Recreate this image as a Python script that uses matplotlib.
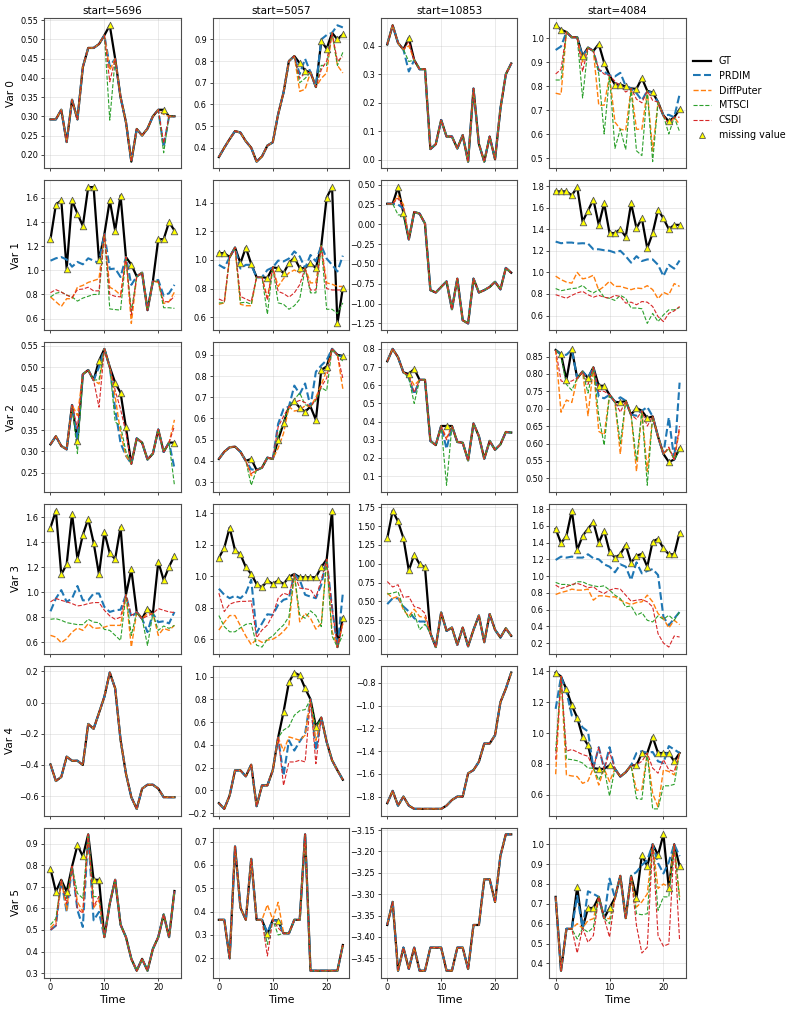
import numpy as np
import matplotlib
matplotlib.use("Agg")
import matplotlib.pyplot as plt
from matplotlib.lines import Line2D

# time axis and window starts (one column each)
time_steps = np.arange(24)
starts = [5696, 5057, 10853, 4084]

# ---- start=5696 ----
gt_5696 = [
    [0.292, 0.292, 0.317, 0.233, 0.343, 0.292, 0.428, 0.478, 0.478, 0.488, 0.511, 0.537,
     0.450, 0.350, 0.285, 0.182, 0.267, 0.250, 0.268, 0.300, 0.317, 0.317, 0.300, 0.300],
    [1.258, 1.545, 1.58, 1.014, 1.58, 1.47, 1.368, 1.69, 1.69, 1.083, 1.30, 1.58,
     1.33, 1.62, 1.11, 1.047, 0.95, 0.98, 0.67, 0.91, 1.258, 1.258, 1.40, 1.33],
    [0.317, 0.336, 0.313, 0.305, 0.41, 0.324, 0.483, 0.493, 0.469, 0.515, 0.543, 0.50,
     0.463, 0.439, 0.357, 0.271, 0.331, 0.321, 0.281, 0.295, 0.352, 0.299, 0.321, 0.321],
    [1.519, 1.654, 1.143, 1.224, 1.63, 1.267, 1.46, 1.589, 1.398, 1.143, 1.482, 1.312,
     1.267, 1.522, 0.98, 1.183, 0.84, 0.788, 0.869, 0.829, 1.245, 1.097, 1.205, 1.294],
    [-0.397, -0.503, -0.477, -0.347, -0.373, -0.373, -0.40, -0.137, -0.168, -0.066, 0.038, 0.193,
     0.092, -0.239, -0.455, -0.607, -0.682, -0.552, -0.527, -0.527, -0.552, -0.607, -0.607, -0.607],
    [0.784, 0.678, 0.733, 0.678, 0.795, 0.894, 0.842, 0.944, 0.733, 0.733, 0.467, 0.623,
     0.733, 0.525, 0.467, 0.366, 0.311, 0.366, 0.311, 0.412, 0.467, 0.572, 0.467, 0.681],
]
miss_5696 = [
    [11, 21],
    [0, 1, 2, 3, 4, 5, 6, 7, 8, 9, 11, 12, 13, 15, 20, 21, 22, 23],
    [5, 9, 12, 13, 14, 23],
    [0, 1, 2, 3, 4, 5, 6, 7, 8, 9, 10, 11, 12, 13, 15, 18, 20, 21, 22, 23],
    [],
    [0, 1, 3, 5, 6, 8, 9],
]
prdim_5696 = [
    [0.43, 0.22],
    [1.08, 1.10, 1.11, 1.09, 1.03, 1.07, 1.05, 1.10, 1.08, 1.06, 1.01, 1.015, 0.945, 0.88, 0.92, 0.79, 0.81, 0.88],
    [0.33, 0.50, 0.40, 0.32, 0.29, 0.26],
    [0.847, 0.95, 1.017, 0.923, 0.95, 1.05, 0.935, 0.935, 0.99, 0.99, 0.882, 0.842, 0.855, 0.86,
     0.80, 0.68, 0.76, 0.767, 0.75, 0.842],
    [],
    [0.50, 0.52, 0.584, 0.592, 0.514, 0.545, 0.584],
]
diffputer_5696 = [
    [0.42, 0.305],
    [0.78, 0.74, 0.70, 0.765, 0.765, 0.86, 0.875, 0.90, 0.915, 0.93, 0.86, 0.835, 0.795, 0.56, 0.90, 0.725, 0.74, 0.82],
    [0.385, 0.46, 0.43, 0.345, 0.29, 0.375],
    [0.654, 0.64, 0.595, 0.627, 0.68, 0.713, 0.694, 0.748, 0.71, 0.713, 0.72, 0.734, 0.734, 0.734,
     0.56, 0.83, 0.654, 0.71, 0.694, 0.734],
    [],
    [0.51, 0.537, 0.592, 0.631, 0.584, 0.603, 0.639],
]
mtsci_5696 = [
    [0.29, 0.205],
    [0.78, 0.81, 0.82, 0.795, 0.78, 0.745, 0.77, 0.785, 0.80, 0.80, 0.68, 0.675, 0.67, 0.66, 0.91, 0.69, 0.69, 0.685],
    [0.295, 0.47, 0.37, 0.36, 0.30, 0.22],
    [0.783, 0.788, 0.775, 0.756, 0.748, 0.74, 0.74, 0.783, 0.76, 0.756, 0.702, 0.694, 0.654, 0.613,
     0.654, 0.573, 0.694, 0.729, 0.71, 0.734],
    [],
    [0.525, 0.553, 0.647, 0.67, 0.647, 0.655, 0.655],
]
csdi_5696 = [
    [0.39, 0.23],
    [0.815, 0.84, 0.82, 0.795, 0.775, 0.84, 0.845, 0.86, 0.83, 0.83, 0.80, 0.785, 0.78, 0.63, 0.91, 0.74, 0.74, 0.785],
    [0.355, 0.405, 0.445, 0.40, 0.345, 0.36],
    [0.923, 0.95, 0.935, 0.923, 0.909, 0.89, 0.896, 0.909, 0.917, 0.917, 0.855, 0.81, 0.783, 0.80,
     0.815, 0.81, 0.869, 0.855, 0.842, 0.837],
    [],
    [0.50, 0.52, 0.623, 0.60, 0.577, 0.61, 0.655],
]

# ---- start=5057 ----
gt_5057 = [
    [0.357, 0.40, 0.44, 0.477, 0.47, 0.43, 0.40, 0.336, 0.36, 0.41, 0.425, 0.555,
     0.655, 0.80, 0.823, 0.79, 0.756, 0.748, 0.68, 0.892, 0.857, 0.93, 0.90, 0.923],
    [1.048, 1.048, 1.02, 1.087, 0.978, 1.087, 0.973, 0.88, 0.88, 0.874, 0.948, 0.943,
     0.908, 0.978, 1.017, 0.943, 0.943, 0.978, 0.943, 1.10, 1.437, 1.51, 0.556, 0.804],
    [0.409, 0.443, 0.464, 0.467, 0.443, 0.40, 0.409, 0.357, 0.368, 0.415, 0.409, 0.50,
     0.577, 0.656, 0.68, 0.651, 0.632, 0.656, 0.593, 0.829, 0.845, 0.928, 0.90, 0.895],
    [1.116, 1.18, 1.308, 1.163, 1.138, 1.057, 1.014, 0.95, 0.928, 0.973, 0.95, 0.973,
     0.95, 0.995, 1.014, 0.993, 0.993, 0.993, 0.993, 1.057, 1.106, 1.415, 0.55, 0.737],
    [-0.112, -0.162, -0.044, 0.176, 0.176, 0.124, 0.226, -0.138, 0.044, 0.044, 0.176, 0.465,
     0.69, 0.95, 1.035, 1.01, 0.897, 0.80, 0.56, 0.64, 0.426, 0.265, 0.176, 0.094],
    [0.365, 0.365, 0.20, 0.679, 0.417, 0.365, 0.626, 0.365, 0.365, 0.304, 0.365, 0.361,
     0.307, 0.307, 0.365, 0.365, 0.731, 0.147, 0.147, 0.147, 0.147, 0.147, 0.147, 0.257],
]
miss_5057 = [
    [15, 16, 19, 20, 22, 23],
    [0, 1, 4, 5, 6, 9, 11, 12, 13, 14, 15, 17, 18, 20, 21, 22, 23],
    [6, 11, 12, 14, 15, 16, 18, 19, 20, 23],
    [0, 1, 2, 3, 4, 5, 6, 7, 8, 9, 10, 11, 12, 13, 15, 16, 17, 18, 19, 21, 23],
    [12, 13, 14, 15, 16, 18],
    [9, 11],
]
prdim_5057 = [
    [0.74, 0.81, 0.90, 0.92, 0.965, 0.955],
    [0.966, 0.943, 0.94, 0.966, 0.966, 0.93, 0.996, 0.99, 1.01, 1.06, 1.025, 1.035, 0.99, 1.01, 0.966, 0.92, 1.03],
    [0.36, 0.575, 0.645, 0.755, 0.715, 0.765, 0.82, 0.85, 0.875, 0.89],
    [0.92, 0.882, 0.86, 0.875, 0.86, 0.892, 0.977, 0.64, 0.70, 0.758, 0.754, 0.818, 0.85, 0.86,
     0.977, 0.882, 0.87, 0.86, 0.946, 0.80, 0.892],
    [0.13, 0.44, 0.35, 0.43, 0.50, 0.35],
    [0.31, 0.36],
]
diffputer_5057 = [
    [0.66, 0.67, 0.72, 0.745, 0.78, 0.745],
    [0.69, 0.70, 0.69, 0.68, 0.68, 0.735, 0.815, 0.87, 0.91, 0.93, 0.91, 0.84, 0.84, 0.84, 0.83, 0.815, 0.815],
    [0.33, 0.46, 0.53, 0.635, 0.64, 0.66, 0.70, 0.76, 0.825, 0.74],
    [0.658, 0.707, 0.75, 0.75, 0.685, 0.62, 0.566, 0.60, 0.58, 0.594, 0.60, 0.62, 0.65, 0.69,
     0.71, 0.764, 0.733, 0.664, 0.70, 0.65, 0.70],
    [0.347, 0.47, 0.456, 0.44, 0.485, 0.44],
    [0.43, 0.44],
]
mtsci_5057 = [
    [0.70, 0.72, 0.78, 0.78, 0.78, 0.84],
    [0.70, 0.70, 0.70, 0.705, 0.69, 0.62, 0.70, 0.69, 0.655, 0.68, 0.725, 0.77, 0.77, 0.655, 0.655, 0.625, 0.70],
    [0.285, 0.52, 0.58, 0.69, 0.72, 0.665, 0.685, 0.745, 0.73, 0.87],
    [0.75, 0.68, 0.647, 0.647, 0.672, 0.694, 0.70, 0.562, 0.55, 0.60, 0.62, 0.658, 0.69, 0.743,
     0.754, 0.733, 0.78, 0.75, 0.68, 0.62, 0.63],
    [0.53, 0.56, 0.66, 0.70, 0.71, 0.55],
    [0.26, 0.30],
]
csdi_5057 = [
    [0.72, 0.745, 0.76, 0.80, 0.80, 0.82],
    [0.727, 0.71, 0.745, 0.727, 0.71, 0.72, 0.78, 0.765, 0.74, 0.77, 0.827, 0.79, 0.79, 0.80, 0.79, 0.79, 0.79],
    [0.34, 0.56, 0.61, 0.675, 0.685, 0.675, 0.69, 0.75, 0.79, 0.79],
    [0.892, 0.775, 0.822, 0.835, 0.84, 0.84, 0.843, 0.61, 0.658, 0.69, 0.754, 0.86, 0.892, 0.88,
     0.924, 0.92, 0.914, 0.865, 0.977, 0.80, 0.70],
    [0.044, 0.25, 0.25, 0.265, 0.25, 0.235],
    [0.21, 0.33],
]

# ---- start=10853 ----
gt_10853 = [
    [0.405, 0.472, 0.41, 0.387, 0.428, 0.35, 0.318, 0.318, 0.038, 0.055, 0.14, 0.082,
     0.082, 0.04, 0.087, -0.006, 0.25, 0.056, -0.006, 0.082, 0.002, 0.18, 0.30, 0.338],
    [0.26, 0.26, 0.47, 0.143, -0.19, 0.156, 0.135, 0.01, -0.83, -0.86, -0.79, -0.72,
     -1.07, -0.685, -1.21, -1.25, -0.685, -0.86, -0.83, -0.79, -0.725, -0.82, -0.55, -0.61],
    [0.732, 0.80, 0.754, 0.671, 0.662, 0.69, 0.63, 0.63, 0.294, 0.271, 0.376, 0.376,
     0.376, 0.288, 0.284, 0.187, 0.39, 0.32, 0.196, 0.294, 0.245, 0.275, 0.343, 0.34],
    [1.34, 1.706, 1.563, 1.34, 0.91, 1.12, 0.995, 0.95, 0.075, -0.11, 0.35, 0.106,
     0.15, -0.08, 0.15, -0.10, 0.12, 0.31, -0.045, 0.33, 0.12, 0.017, 0.14, 0.04],
    [-1.858, -1.75, -1.879, -1.80, -1.879, -1.908, -1.908, -1.908, -1.908, -1.908, -1.908, -1.879,
     -1.83, -1.80, -1.80, -1.596, -1.567, -1.494, -1.334, -1.334, -1.26, -0.97, -0.852, -0.71],
    [-3.372, -3.318, -3.479, -3.425, -3.475, -3.425, -3.479, -3.479, -3.425, -3.425, -3.425, -3.479,
     -3.479, -3.425, -3.425, -3.475, -3.372, -3.372, -3.265, -3.265, -3.318, -3.21, -3.16, -3.16],
]
miss_10853 = [[4], [2, 3], [4, 5, 11], [0, 1, 2, 3, 4, 5, 6, 7], [], []]
prdim_10853 = [[0.31], [0.25, 0.20], [0.64, 0.55, 0.25],
               [0.462, 0.54, 0.54, 0.43, 0.364, 0.275, 0.23, 0.23], [], []]
diffputer_10853 = [[0.40], [0.36, 0.25], [0.65, 0.60, 0.31],
                   [0.61, 0.54, 0.564, 0.386, 0.297, 0.395, 0.297, 0.284], [], []]
mtsci_10853 = [[0.345], [0.12, 0.115], [0.64, 0.50, 0.05],
               [0.595, 0.61, 0.63, 0.408, 0.275, 0.34, 0.12, 0.195], [], []]
csdi_10853 = [[0.415], [0.33, 0.20], [0.655, 0.56, 0.30],
              [0.763, 0.69, 0.72, 0.55, 0.563, 0.43, 0.408, 0.34], [], []]

# ---- start=4084 ----
gt_4084 = [
    [1.053, 1.035, 1.025, 1.003, 1.003, 0.925, 0.96, 0.946, 0.975, 0.897, 0.844, 0.806,
     0.806, 0.798, 0.79, 0.788, 0.833, 0.78, 0.773, 0.733, 0.677, 0.653, 0.67, 0.703],
    [1.75, 1.75, 1.75, 1.713, 1.79, 1.47, 1.572, 1.675, 1.44, 1.64, 1.364, 1.364,
     1.40, 1.33, 1.64, 1.41, 1.50, 1.223, 1.364, 1.58, 1.50, 1.40, 1.44, 1.44],
    [0.869, 0.857, 0.783, 0.872, 0.788, 0.807, 0.788, 0.819, 0.766, 0.766, 0.74, 0.72,
     0.718, 0.723, 0.683, 0.702, 0.694, 0.673, 0.678, 0.62, 0.57, 0.547, 0.554, 0.587],
    [1.564, 1.392, 1.48, 1.78, 1.312, 1.48, 1.564, 1.644, 1.40, 1.54, 1.292, 1.22,
     1.26, 1.372, 1.16, 1.244, 1.264, 1.112, 1.412, 1.444, 1.332, 1.26, 1.26, 1.52],
    [1.393, 1.367, 1.283, 1.18, 1.10, 0.975, 0.922, 0.772, 0.767, 0.767, 0.79, 0.767,
     0.717, 0.745, 0.79, 0.79, 0.87, 0.87, 0.975, 0.87, 0.87, 0.87, 0.816, 0.87],
    [0.735, 0.363, 0.574, 0.574, 0.785, 0.577, 0.679, 0.679, 0.735, 0.628, 0.679, 0.73,
     0.841, 0.628, 0.841, 0.73, 0.946, 0.89, 1.0, 0.946, 1.05, 0.78, 1.0, 0.89],
]
miss_4084 = [
    [0, 1, 5, 8, 9, 11, 12, 13, 15, 16, 18, 21, 23],
    list(range(24)),
    [1, 2, 3, 6, 8, 9, 12, 15, 17, 21, 23],
    list(range(24)),
    [0, 2, 3, 4, 5, 6, 8, 10, 15, 16, 18, 19, 20, 21, 22],
    [4, 6, 7, 10, 15, 16, 17, 19, 20, 21, 23],
]
prdim_4084 = [
    [0.95, 0.965, 0.92, 0.865, 0.86, 0.84, 0.855, 0.80, 0.77, 0.74, 0.77, 0.68, 0.765],
    [1.285, 1.27, 1.276, 1.276, 1.267, 1.27, 1.267, 1.214, 1.214, 1.205, 1.2, 1.183,
     1.2, 1.15, 1.09, 1.15, 1.105, 1.12, 1.12, 1.07, 0.965, 1.07, 1.035, 1.11],
    [0.855, 0.855, 0.87, 0.79, 0.735, 0.73, 0.733, 0.68, 0.705, 0.675, 0.775],
    [1.192, 1.232, 1.22, 1.232, 1.22, 1.22, 1.26, 1.212, 1.20, 1.14, 1.112, 1.044,
     1.14, 1.112, 0.952, 1.164, 1.032, 1.06, 1.084, 1.012, 0.512, 0.412, 0.492, 0.572],
    [1.157, 1.268, 1.114, 1.10, 1.036, 1.01, 0.908, 0.908, 0.87, 0.882, 0.877, 0.816, 0.805, 0.915, 0.893],
    [0.74, 0.763, 0.75, 0.827, 0.86, 0.895, 0.92, 0.905, 0.853, 0.91, 0.94],
]
diffputer_4084 = [
    [0.77, 0.765, 0.90, 0.72, 0.72, 0.65, 0.62, 0.615, 0.62, 0.62, 0.53, 0.64, 0.64],
    [0.965, 0.933, 0.91, 0.90, 1.0, 0.94, 0.95, 0.974, 0.834, 0.87, 0.918, 0.87,
     0.87, 0.855, 0.84, 0.855, 0.85, 0.877, 0.84, 0.756, 0.815, 0.793, 0.896, 0.87],
    [0.69, 0.725, 0.718, 0.68, 0.635, 0.625, 0.57, 0.52, 0.52, 0.585, 0.64],
    [0.78, 0.804, 0.82, 0.844, 0.832, 0.832, 0.844, 0.712, 0.764, 0.764, 0.752, 0.752,
     0.712, 0.684, 0.66, 0.684, 0.692, 0.772, 0.692, 0.552, 0.492, 0.38, 0.472, 0.42],
    [0.732, 0.728, 0.721, 0.717, 0.673, 0.688, 0.662, 0.684, 0.628, 0.633, 0.606, 0.52, 0.761, 0.75, 0.728],
    [0.60, 0.616, 0.625, 0.625, 0.684, 0.71, 0.75, 0.777, 0.80, 0.785, 0.735],
]
mtsci_4084 = [
    [0.825, 0.825, 0.75, 0.85, 0.60, 0.54, 0.62, 0.535, 0.53, 0.51, 0.485, 0.60, 0.61],
    [0.85, 0.83, 0.84, 0.85, 0.855, 0.88, 0.834, 0.81, 0.84, 0.77, 0.76, 0.74,
     0.787, 0.76, 0.67, 0.67, 0.663, 0.527, 0.62, 0.544, 0.606, 0.653, 0.653, 0.675],
    [0.85, 0.77, 0.753, 0.745, 0.68, 0.595, 0.60, 0.55, 0.48, 0.585, 0.58],
    [0.924, 0.90, 0.90, 0.884, 0.932, 0.932, 0.90, 0.884, 0.872, 0.884, 0.832, 0.772,
     0.732, 0.632, 0.644, 0.532, 0.564, 0.472, 0.452, 0.524, 0.484, 0.532, 0.472, 0.572],
    [0.882, 0.831, 0.827, 0.82, 0.805, 0.772, 0.695, 0.591, 0.574, 0.569, 0.507, 0.507, 0.657, 0.657, 0.666],
    [0.523, 0.557, 0.582, 0.60, 0.65, 0.645, 0.65, 0.667, 0.735, 0.735, 0.718],
]
csdi_4084 = [
    [0.85, 0.87, 0.86, 0.87, 0.85, 0.82, 0.80, 0.775, 0.745, 0.73, 0.74, 0.64, 0.67],
    [0.793, 0.777, 0.76, 0.787, 0.81, 0.824, 0.793, 0.77, 0.787, 0.77, 0.76, 0.787,
     0.777, 0.715, 0.724, 0.70, 0.73, 0.724, 0.684, 0.59, 0.544, 0.62, 0.643, 0.684],
    [0.78, 0.775, 0.78, 0.77, 0.75, 0.75, 0.69, 0.67, 0.65, 0.59, 0.65],
    [0.892, 0.852, 0.872, 0.90, 0.912, 0.892, 0.86, 0.872, 0.82, 0.792, 0.832, 0.852,
     0.844, 0.772, 0.70, 0.712, 0.72, 0.692, 0.632, 0.312, 0.20, 0.152, 0.284, 0.272],
    [0.827, 0.882, 0.893, 0.877, 0.86, 0.849, 0.908, 0.877, 0.794, 0.816, 0.772, 0.739, 0.827, 0.761, 0.75],
    [0.452, 0.506, 0.54, 0.532, 0.59, 0.452, 0.481, 0.54, 0.486, 0.498, 0.515],
]

columns = [
    (gt_5696, miss_5696, prdim_5696, diffputer_5696, mtsci_5696, csdi_5696),
    (gt_5057, miss_5057, prdim_5057, diffputer_5057, mtsci_5057, csdi_5057),
    (gt_10853, miss_10853, prdim_10853, diffputer_10853, mtsci_10853, csdi_10853),
    (gt_4084, miss_4084, prdim_4084, diffputer_4084, mtsci_4084, csdi_4084),
]

methods = [
    ("PRDIM", "tab:blue", 1.5),
    ("DiffPuter", "tab:orange", 1.0),
    ("MTSCI", "tab:green", 0.8),
    ("CSDI", "tab:red", 0.8),
]

fig, axes = plt.subplots(6, 4, figsize=(7.91, 10.09), dpi=100, sharex=True)
fig.subplots_adjust(left=0.056, right=0.867, top=0.9817, bottom=0.0312,
                    wspace=0.235, hspace=0.079)

for c, (gts, misses, *imps) in enumerate(columns):
    for r in range(6):
        ax = axes[r, c]
        gt = np.array(gts[r])
        m = np.array(misses[r], dtype=int)
        ax.plot(time_steps, gt, color="black", lw=1.6, zorder=2)
        for (name, col, lw), imp in zip(methods, imps):
            y = gt.copy()
            if len(m):
                y[m] = imp[r]
            ax.plot(time_steps, y, color=col, ls="--", lw=lw, zorder=3)
        if len(m):
            ax.scatter(time_steps[m], gt[m], marker="^", s=22, facecolor="yellow",
                       edgecolor="0.35", linewidths=0.6, zorder=6)
        ax.grid(True, alpha=0.3, lw=0.6)
        ax.set_xticks([0, 10, 20])
        ax.tick_params(labelsize=5.9, length=2.2, width=0.5, pad=2)
        for s in ax.spines.values():
            s.set_linewidth(0.8)
            s.set_color("0.3")
        if r == 0:
            ax.set_title(f"start={starts[c]}", fontsize=7.5, pad=3)
        if c == 0:
            ax.set_ylabel(f"Var {r}", fontsize=7.5, labelpad=3)
        if r == 5:
            ax.set_xlabel("Time", fontsize=7.8, labelpad=2)

handles = [Line2D([], [], color="black", lw=1.6)]
handles += [Line2D([], [], color=col, ls="--", lw=lw) for _, col, lw in methods]
handles.append(Line2D([], [], ls="none", marker="^", markersize=5, markerfacecolor="yellow",
                      markeredgecolor="0.35", markeredgewidth=0.6))
labels = ["GT", "PRDIM", "DiffPuter", "MTSCI", "CSDI", "missing value"]
fig.legend(handles, labels, loc="upper left", bbox_to_anchor=(0.865, 0.953),
           frameon=False, fontsize=6.9, handlelength=1.9)

fig.savefig("out.png", dpi=100)
